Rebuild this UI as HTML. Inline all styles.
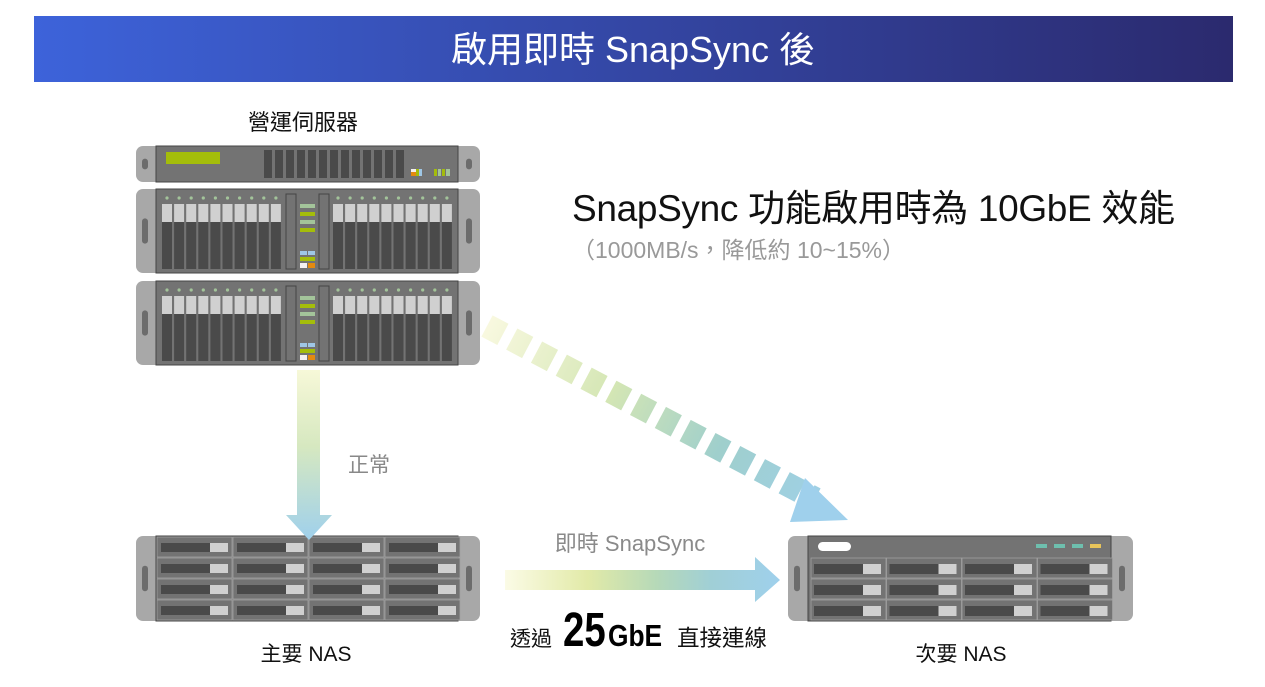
<!DOCTYPE html>
<html><head><meta charset="utf-8">
<style>
html,body{margin:0;padding:0;background:#fff;}
svg{display:block;}
text{font-family:"Liberation Sans","Noto Sans CJK TC",sans-serif;}
</style></head>
<body>
<svg id="s" width="1265" height="687" viewBox="0 0 1265 687" xmlns="http://www.w3.org/2000/svg">
<defs>
<linearGradient id="tg" x1="0" x2="1" y1="0" y2="0"><stop offset="0" stop-color="#3d63da"/><stop offset="1" stop-color="#2b2a6e"/></linearGradient>
<linearGradient id="dg" x1="0" x2="0" y1="0" y2="1"><stop offset="0" stop-color="#f7f8d8"/><stop offset="0.45" stop-color="#d6e8c0"/><stop offset="1" stop-color="#9fd0ec"/></linearGradient>
<linearGradient id="hg" x1="0" x2="1" y1="0" y2="0"><stop offset="0" stop-color="#fbfbe6"/><stop offset="0.3" stop-color="#e2eaa8"/><stop offset="0.55" stop-color="#b6d9b8"/><stop offset="0.75" stop-color="#a0cfd6"/><stop offset="1" stop-color="#9fd0ec"/></linearGradient>
<linearGradient id="ag" gradientUnits="userSpaceOnUse" x1="485" y1="325" x2="845" y2="515"><stop offset="0" stop-color="#f9f9e0"/><stop offset="0.35" stop-color="#d4e6b4"/><stop offset="0.65" stop-color="#9fcfcc"/><stop offset="1" stop-color="#9fd0ec"/></linearGradient>
</defs>
<rect x="34" y="16" width="1199" height="66" fill="url(#tg)"/>
<text x="633" y="62" font-size="36" fill="#fff" text-anchor="middle">啟用即時 SnapSync 後</text>

<text x="303" y="130" font-size="22" fill="#111" text-anchor="middle">營運伺服器</text>
<g id="racks"></g>

<polygon points="297,370 320,370 320,515 332,515 309,540 286,515 297,515" fill="url(#dg)"/>
<text x="348" y="472" font-size="21" fill="#888">正常</text>

<line x1="487" y1="326" x2="815" y2="499" stroke="url(#ag)" stroke-width="24" stroke-dasharray="18,10"/>
<polygon points="805,478 848,520 790,522" fill="#9fd0ec"/>

<polygon points="505,570 755,570 755,557 780,580 755,602 755,590 505,590" fill="url(#hg)"/>
<text x="630" y="551" font-size="22" fill="#8a8a8a" text-anchor="middle">即時 SnapSync</text>
<text x="510" y="646" font-size="21" fill="#111">透過</text>
<text x="563" y="646" font-size="48" font-weight="bold" fill="#000" transform="translate(563,0) scale(0.8,1) translate(-563,0)">25</text>
<text x="608" y="646" font-size="31" font-weight="bold" fill="#000" transform="translate(608,0) scale(0.85,1) translate(-608,0)">GbE</text>
<text x="677" y="646" font-size="22.5" fill="#111">直接連線</text>

<text x="306" y="661" font-size="21" fill="#111" text-anchor="middle">主要 NAS</text>
<text x="961" y="661" font-size="21" fill="#111" text-anchor="middle">次要 NAS</text>

<text x="572" y="221" font-size="37" fill="#111" textLength="603">SnapSync 功能啟用時為 10GbE 效能</text>
<text x="572" y="258" font-size="23" fill="#999">（1000MB/s，降低約 10~15%）</text>
</svg>
<script>
var g=document.getElementById('racks'),h='';
function R(x,y,w,hh,f,extra){h+='<rect x="'+x+'" y="'+y+'" width="'+w+'" height="'+hh+'" fill="'+f+'" '+(extra||'')+'/>';}
function chassis(x,y,w,hh){
 R(x,y,w,hh,'#a8a8a8','rx="7"');
 R(x+20,y,w-42,hh,'#737373','stroke="#444" stroke-width="1"');
 var hy=y+hh/2;
 R(x+6,hy-hh*0.15,6,hh*0.3,'#6c6c6c','rx="3"');
 R(x+w-14,hy-hh*0.15,6,hh*0.3,'#6c6c6c','rx="3"');
}
chassis(136,146,344,36);
R(166,152,54,12,'#a4bd0a');
for(var i=0;i<13;i++)R(264+i*11,150,8,28,'#4a4a4a');
R(411,169,5,7,'#e48a10');R(411,169,5,3,'#f4f0f0');R(416,169,3,7,'#a4bd0a');R(419,169,3,7,'#9fc7e6');
R(434,169,3,7,'#a4bd0a');R(438,169,3,7,'#a3c49a');R(442,169,3,7,'#a4bd0a');R(446,169,4,7,'#a3c49a');
function big(y){
 chassis(136,y,344,84);
 [162,333].forEach(function(sx){
  for(var i=0;i<10;i++){var x=sx+i*12.1;
   h+='<circle cx="'+(x+5)+'" cy="'+(y+9)+'" r="1.6" fill="#a3c49a"/>';
   R(x,y+15,10,18,'#d0d0d0');R(x,y+33,10,47,'#4a4a4a');}
 });
 R(286,y+5,10,75,'#737373','stroke="#444"');R(319,y+5,10,75,'#737373','stroke="#444"');
 R(300,y+15,15,4,'#a3c49a');R(300,y+23,15,4,'#a4bd0a');R(300,y+31,15,4,'#a3c49a');R(300,y+39,15,4,'#a4bd0a');
 R(300,y+62,7,4,'#9fc7e6');R(308,y+62,7,4,'#9fc7e6');R(300,y+68,15,4,'#a4bd0a');R(300,y+74,7,5,'#f4f0f0');R(308,y+74,7,5,'#e48a10');
}
big(189);big(281);
chassis(136,536,344,85);
for(var r=0;r<4;r++)for(var c=0;c<4;c++){var x=157+c*76,y=537+r*21;
 R(x,y,75,20,'#737373','stroke="#a0a0a0" stroke-width="0.8"');R(x+4,y+6,49,9,'#4a4a4a');R(x+53,y+6,18,9,'#d0d0d0');}
chassis(788,536,345,85);
R(818,542,33,9,'#fff','rx="4.5"');
R(1036,544,11,4,'#6ebfae');R(1054,544,11,4,'#6ebfae');R(1072,544,11,4,'#6ebfae');R(1090,544,11,4,'#e8c45a');
for(var r=0;r<3;r++)for(var c=0;c<4;c++){var x=811+c*75.5,y=558+r*21;
 R(x,y,75,20,'#737373','stroke="#a0a0a0" stroke-width="0.8"');R(x+3,y+6,49,10,'#4a4a4a');R(x+52,y+6,18,10,'#d0d0d0');}
g.innerHTML=h;
</script>
</body></html>
